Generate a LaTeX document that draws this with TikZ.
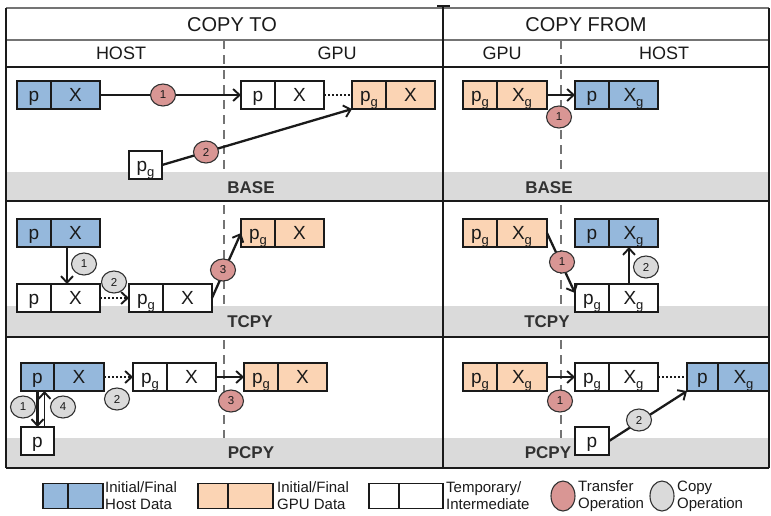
\documentclass[tikz,border=0pt]{standalone}
\usepackage{fontspec}
\setmainfont{Liberation Sans}
\usetikzlibrary{arrows.meta,shapes.geometric}

\definecolor{hostblue}{HTML}{95B8DC}
\definecolor{gpuorange}{HTML}{FBD4B4}
\definecolor{transred}{HTML}{D99694}
\definecolor{copygrey}{HTML}{DADADA}
\definecolor{bandgrey}{HTML}{DADADA}
\definecolor{ink}{HTML}{1A1A1A}
\definecolor{rulegrey}{HTML}{747474}

% lowered "g" used for p_g and X_g
\newcommand\gsub{\raisebox{-0.45ex}{\fontsize{13}{13}\selectfont g}}

\tikzset{
  cell/.style={draw=ink, line width=1.8pt, minimum height=28pt, inner sep=0pt,
    outer sep=0pt, font=\fontsize{19}{19}\selectfont, text=ink, anchor=west,
    text height=13.5pt, text depth=0pt},
  pc/.style={cell, minimum width=34pt},
  xc/.style={cell, minimum width=49pt},
  host/.style={fill=hostblue},
  gpu/.style={fill=gpuorange},
  tmp/.style={fill=white},
  op/.style={ellipse, draw=ink!90, line width=1.1pt, minimum width=25pt,
    minimum height=22pt, inner sep=0pt, font=\fontsize{11.5}{11.5}\selectfont, text=ink},
  xfer/.style={op, fill=transred},
  cpy/.style={op, fill=copygrey},
  flow/.style={draw=ink, line width=2.3pt,
    -{Straight Barb[length=6.5pt,width=12pt,line width=1.9pt]}},
  dots/.style={draw=ink, line width=2.1pt, dash pattern=on 2pt off 2pt},
  split/.style={draw=rulegrey, line width=2.2pt, dash pattern=on 9pt off 6pt},
  rule/.style={draw=ink, line width=2.3pt},
  head/.style={font=\fontsize{20}{20}\selectfont, text=ink, inner sep=0pt},
  subhead/.style={font=\fontsize{18}{18}\selectfont, text=ink, inner sep=0pt},
  band/.style={font=\bfseries\fontsize{17}{17}\selectfont, text=ink!90, inner sep=0pt},
  legtext/.style={font=\fontsize{15}{17}\selectfont, text=ink, align=left,
    inner sep=0pt, anchor=west},
  legcell/.style={cell, minimum height=25pt}
}

\begin{document}
\begin{tikzpicture}[x=1pt,y=-1pt]
\useasboundingbox (0,0) rectangle (771,515);

% host / gpu split lines
\draw[split] (224,40) -- (224,468);
\draw[split] (561,40) -- (561,468);

% grey bands with the scheme names
\fill[bandgrey] (6,172) rectangle (769,200);
\fill[bandgrey] (6,306) rectangle (769,337);
\fill[bandgrey] (6,438) rectangle (769,468);
\node[band] (nb1) at (251,188) {BASE};
\node[band] (nb2) at (549,188) {BASE};
\node[band] (nt1) at (250,322) {TCPY};
\node[band] (nt2) at (547,322) {TCPY};
\node[band] (np1) at (251,453) {PCPY};
\node[band] (np2) at (548,453) {PCPY};

% table frame
\draw[draw=rulegrey, line width=1.6pt] (6,8) -- (769,8);
\draw[draw=rulegrey, line width=2.8pt] (6,40) -- (769,40);
\draw[rule] (6,67) -- (769,67);
\draw[rule] (6,201) -- (769,201);
\draw[rule] (6,337) -- (769,337);
\draw[rule] (6,468) -- (769,468);
\draw[draw=ink, line width=1.7pt] (6,8) -- (6,468);
\draw[draw=ink, line width=1.7pt] (769,8) -- (769,468);
\draw[draw=ink, line width=2.8pt] (443,6) -- (443,468);
\draw[draw=ink, line width=1.2pt] (437,6) -- (450,6);

% headers
\node[head] (hto) at (232,25) {COPY TO};
\node[head] (hfrom) at (586,25) {COPY FROM};
\node[subhead] (sh1) at (121,53) {HOST};
\node[subhead] (sg1) at (337,53) {GPU};
\node[subhead] (sg2) at (502,53) {GPU};
\node[subhead] (sh2) at (664,53) {HOST};

% ---------- BASE, copy to ----------
\node[pc,host] (a1p) at (17,95) {p};
\node[xc,host] (a1x) at (a1p.east) {X};
\node[pc,tmp] (a2p) at (241,95) {p};
\node[xc,tmp] (a2x) at (a2p.east) {X};
\node[pc,gpu] (a3p) at (352,95) {p\gsub};
\node[xc,gpu] (a3x) at (a3p.east) {X};
\node[pc,tmp,minimum width=33pt] (a4p) at (129,165) {p\gsub};
\draw[flow] (a1x.east) -- (a2p.west);
\draw[dots] (a2x.east) -- (a3p.west);
\draw[flow] (a4p.east) -- (a3p.south west);
\node[xfer] (a1op) at (163,95) {1};
\node[xfer] (a2op) at (206,152) {2};

% ---------- BASE, copy from ----------
\node[pc,gpu] (b1p) at (463,95) {p\gsub};
\node[xc,gpu,minimum width=50pt] (b1x) at (b1p.east) {X\gsub};
\node[pc,host] (b2p) at (575,95) {p};
\node[xc,host] (b2x) at (b2p.east) {X\gsub};
\draw[flow] (b1x.east) -- (b2p.west);
\node[xfer] (b1op) at (559,117) {1};

% ---------- TCPY, copy to ----------
\node[pc,host] (c1p) at (17,233) {p};
\node[xc,host] (c1x) at (c1p.east) {X};
\node[pc,tmp] (c2p) at (17,298) {p};
\node[xc,tmp] (c2x) at (c2p.east) {X};
\node[pc,tmp] (c3p) at (129,298) {p\gsub};
\node[xc,tmp] (c3x) at (c3p.east) {X};
\node[pc,gpu] (c4p) at (241,233) {p\gsub};
\node[xc,gpu] (c4x) at (c4p.east) {X};
\draw[flow] ([xshift=-8.5pt]c1x.south) -- ([xshift=-8.5pt]c2x.north);
\draw[flow,dots] (c2x.east) -- (c3p.west);
\draw[flow] (c3x.east) -- (c4p.west);
\node[cpy] (c1op) at (84,264) {1};
\node[cpy] (c2op) at (114,282) {2};
\node[xfer] (c3op) at (223,270) {3};

% ---------- TCPY, copy from ----------
\node[pc,gpu] (d1p) at (463,233) {p\gsub};
\node[xc,gpu,minimum width=50pt] (d1x) at (d1p.east) {X\gsub};
\node[pc,host] (d2p) at (575,233) {p};
\node[xc,host] (d2x) at (d2p.east) {X\gsub};
\node[pc,tmp] (d3p) at (575,298) {p\gsub};
\node[xc,tmp] (d3x) at (d3p.east) {X\gsub};
\draw[flow] (d1x.east) -- ([yshift=5pt]d3p.west);
\draw[flow] ([xshift=-4.5pt]d3x.north) -- ([xshift=-4.5pt]d2x.south);
\node[xfer] (d1op) at (562,262) {1};
\node[cpy] (d2op) at (646,267) {2};

% ---------- PCPY, copy to ----------
\node[pc,host,minimum width=33pt] (e1p) at (21,377) {p};
\node[xc,host,minimum width=50pt] (e1x) at (e1p.east) {X};
\node[pc,tmp,minimum width=33pt] (e2p) at (21,441) {p};
\node[pc,tmp] (e3p) at (133,377) {p\gsub};
\node[xc,tmp] (e3x) at (e3p.east) {X};
\node[pc,gpu] (e4p) at (244,377) {p\gsub};
\node[xc,gpu] (e4x) at (e4p.east) {X};
\draw[flow] (e1p.south) -- (e2p.north);
\draw[flow,line width=1.7pt] ([xshift=7pt]e2p.north) -- ([xshift=7pt]e1p.south);
\draw[flow,dots] (e1x.east) -- (e3p.west);
\draw[flow] (e3x.east) -- (e4p.west);
\node[cpy] (e1op) at (23,407) {1};
\node[cpy] (e4op) at (63,407) {4};
\node[cpy] (e2op) at (117,399) {2};
\node[xfer] (e3op) at (231,401) {3};

% ---------- PCPY, copy from ----------
\node[pc,gpu] (f1p) at (463,377) {p\gsub};
\node[xc,gpu,minimum width=50pt] (f1x) at (f1p.east) {X\gsub};
\node[pc,tmp] (f2p) at (575,377) {p\gsub};
\node[xc,tmp] (f2x) at (f2p.east) {X\gsub};
\node[pc,host,minimum width=31pt] (f3p) at (687,377) {p};
\node[xc,host,minimum width=51pt] (f3x) at (f3p.east) {X\gsub};
\node[pc,tmp] (f4p) at (575,441) {p};
\draw[flow] (f1x.east) -- (f2p.west);
\draw[dots] (f2x.east) -- (f3p.west);
\draw[flow] (f4p.east) -- (f3p.south west);
\node[xfer] (f1op) at (560,401) {1};
\node[cpy] (f2op) at (639,420) {2};

% ---------- legend ----------
\node[legcell,host,minimum width=25pt] (l1a) at (43,496) {};
\node[legcell,host,minimum width=35pt] (l1b) at (l1a.east) {};
\node[legtext] (l1t) at (105,496) {Initial/Final\\Host Data};
\node[legcell,gpu,minimum width=30pt] (l2a) at (198,496) {};
\node[legcell,gpu,minimum width=45pt] (l2b) at (l2a.east) {};
\node[legtext] (l2t) at (277,496) {Initial/Final\\GPU Data};
\node[legcell,tmp,minimum width=30pt] (l3a) at (369,496) {};
\node[legcell,tmp,minimum width=44pt] (l3b) at (l3a.east) {};
\node[legtext] (l3t) at (446,496) {Temporary/\\Intermediate};
\node[xfer,minimum width=24pt,minimum height=30pt] (l4c) at (563,496) {};
\node[legtext] (l4t) at (578,496) {Transfer\\Operation};
\node[cpy,minimum width=24pt,minimum height=30pt] (l5c) at (662,496) {};
\node[legtext] (l5t) at (677,496) {Copy\\Operation};
\end{tikzpicture}
\end{document}
